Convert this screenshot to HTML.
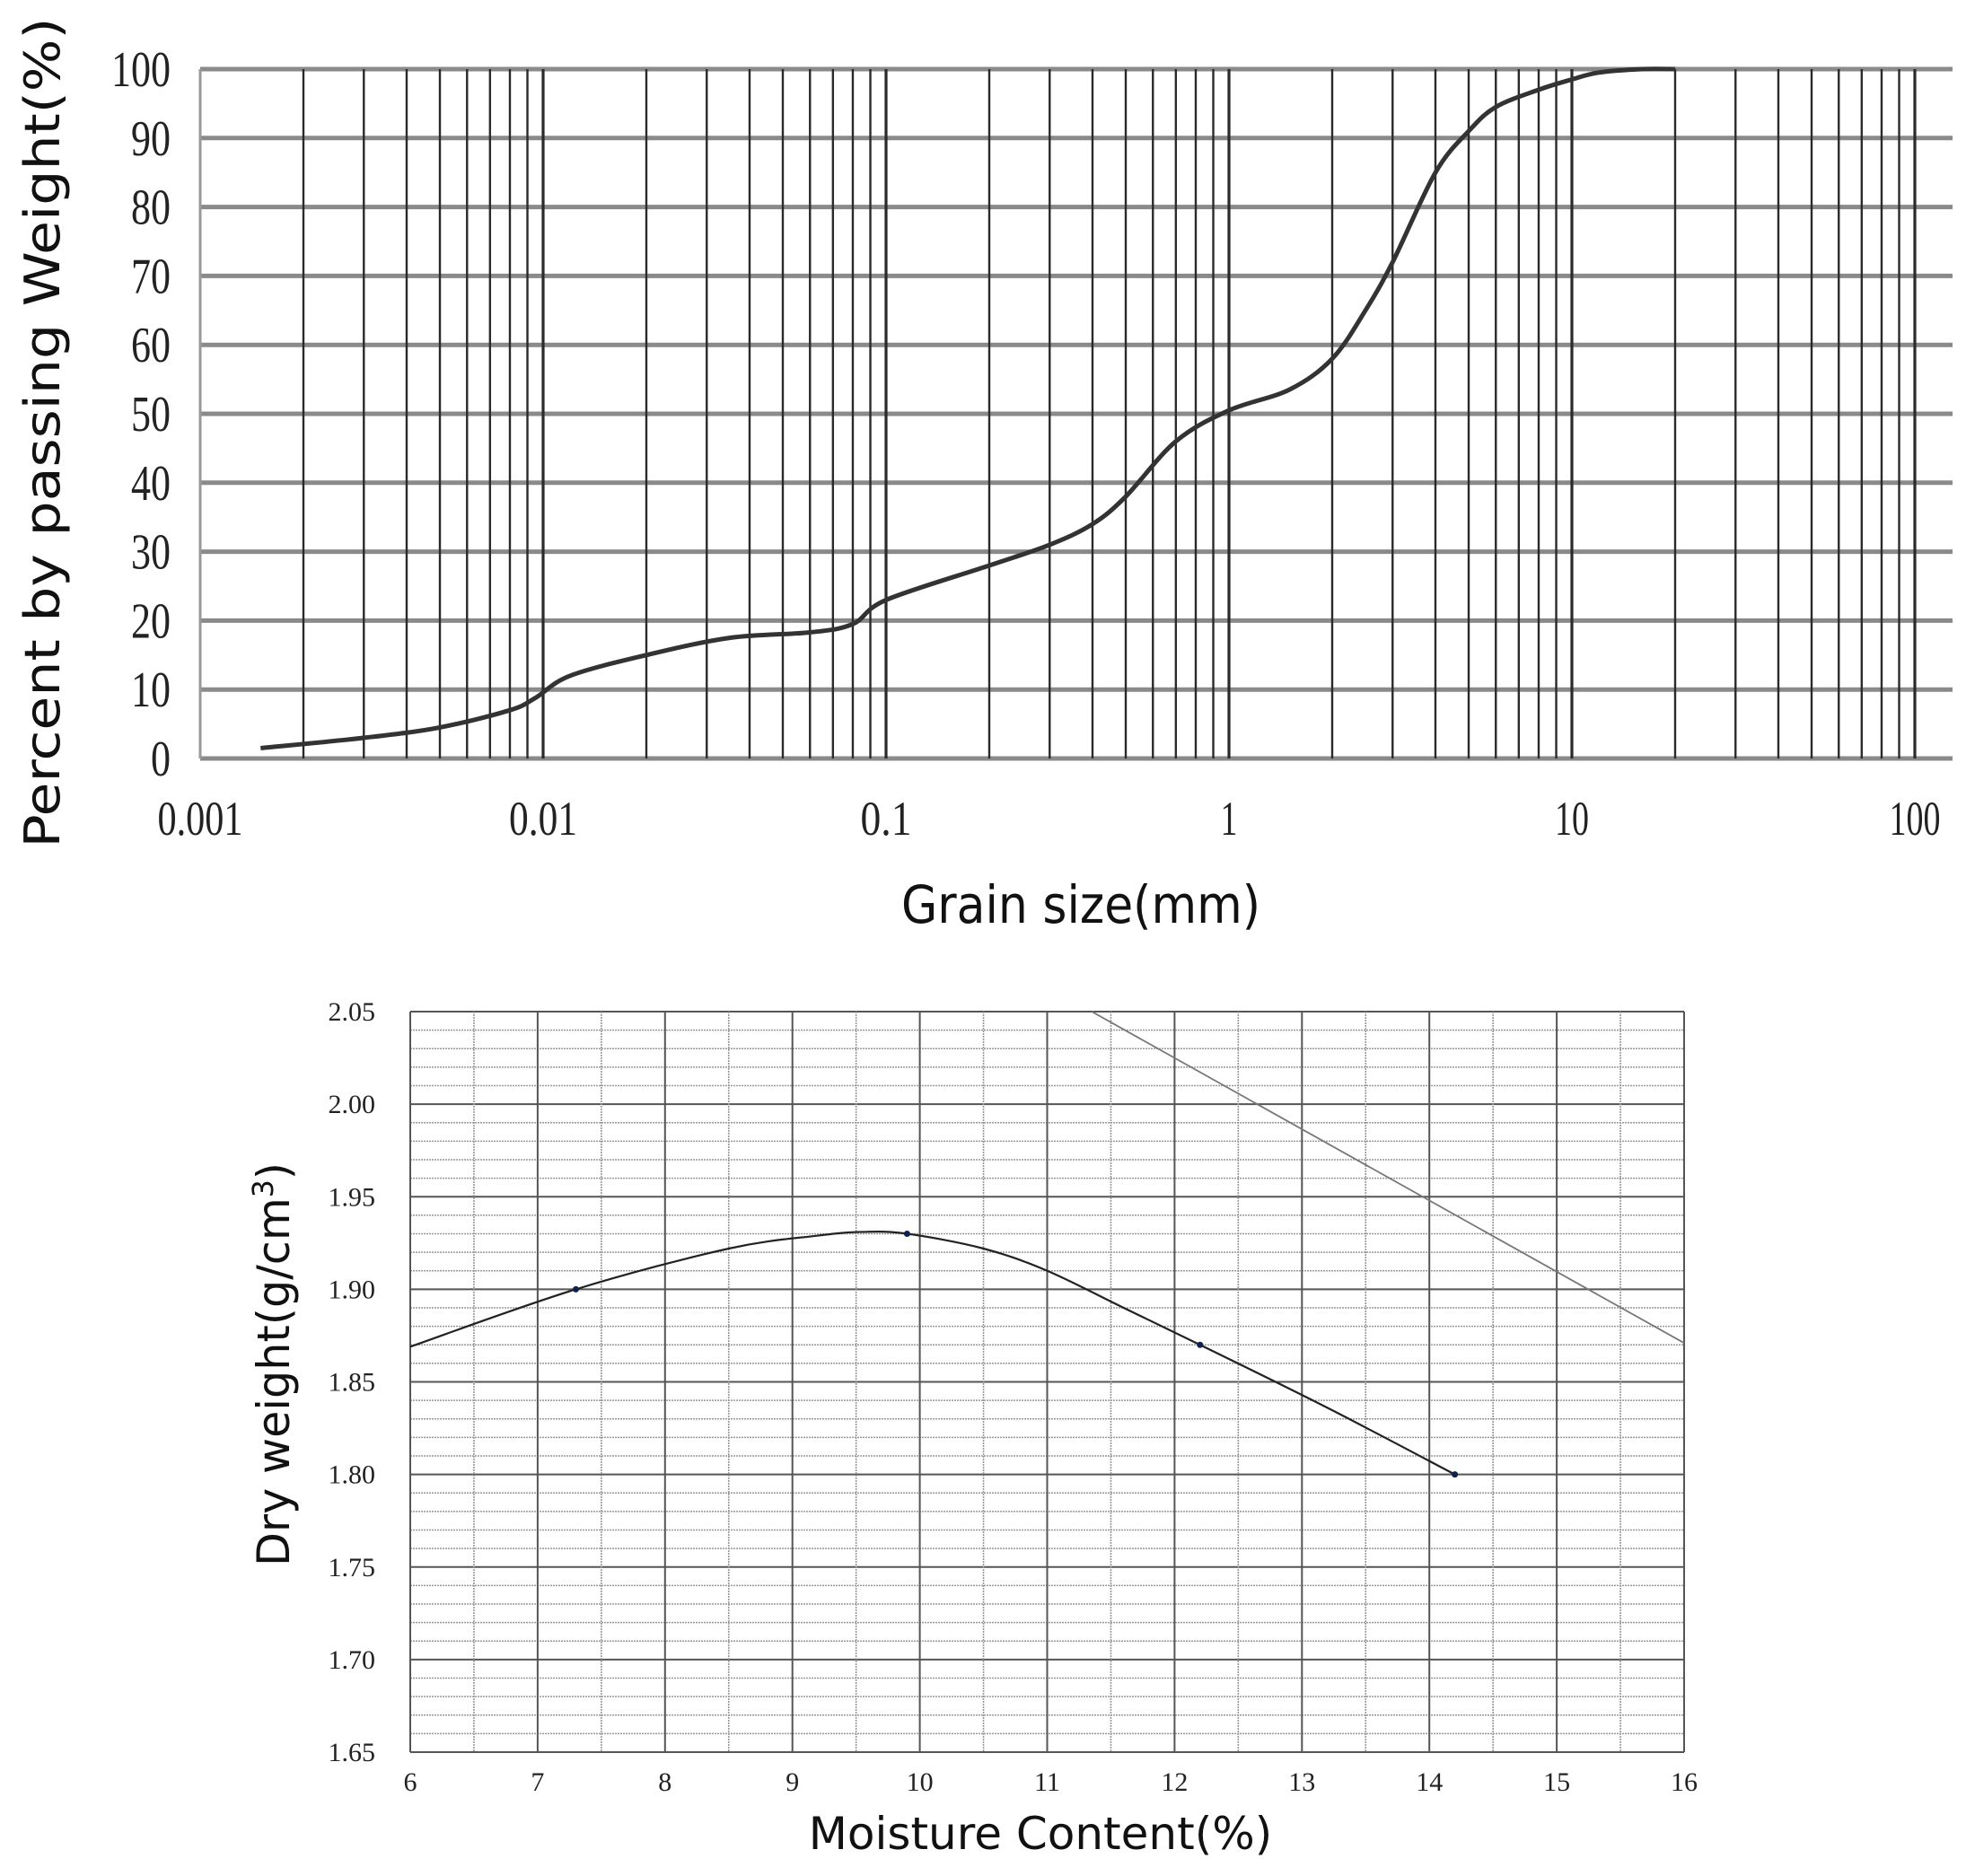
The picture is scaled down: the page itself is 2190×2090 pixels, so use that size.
<!DOCTYPE html>
<html><head><meta charset="utf-8"><style>
html,body{margin:0;padding:0;background:#fff;width:2190px;height:2090px;overflow:hidden}
</style></head><body>
<svg id="s" width="2190" height="2090" xmlns="http://www.w3.org/2000/svg">
<rect width="2190" height="2090" fill="#fff"/>
<g id="g1"></g>
<g id="g2"></g>
<text x="1204" y="1028" font-family="DejaVu Sans, sans-serif" font-size="58" text-anchor="middle" fill="#111" textLength="400" lengthAdjust="spacingAndGlyphs">Grain size(mm)</text>
<text transform="translate(66,482) rotate(-90)" font-family="DejaVu Sans, sans-serif" font-size="54" text-anchor="middle" fill="#111" textLength="925" lengthAdjust="spacingAndGlyphs">Percent by passing Weight(%)</text>
<text x="1159" y="2060" font-family="DejaVu Sans, sans-serif" font-size="50" text-anchor="middle" fill="#111">Moisture Content(%)</text>
<text transform="translate(322,1520) rotate(-90)" font-family="DejaVu Sans, sans-serif" font-size="50" text-anchor="middle" fill="#111" textLength="450" lengthAdjust="spacingAndGlyphs">Dry weight(g/cm<tspan font-size="32" dy="-18">3</tspan><tspan dy="18">)</tspan></text>
</svg>
<script>
var NS="http://www.w3.org/2000/svg";
function el(p,t,a,txt){var e=document.createElementNS(NS,t);for(var k in a)e.setAttribute(k,a[k]);if(txt!==undefined)e.textContent=txt;p.appendChild(e);return e;}
function smooth(P){var d='M'+P[0][0]+','+P[0][1];
for(var i=0;i<P.length-1;i++){var p0=P[Math.max(0,i-1)],p1=P[i],p2=P[i+1],p3=P[Math.min(P.length-1,i+2)];
d+='C'+(p1[0]+(p2[0]-p0[0])/6)+','+(p1[1]+(p2[1]-p0[1])/6)+' '+(p2[0]-(p3[0]-p1[0])/6)+','+(p2[1]-(p3[1]-p1[1])/6)+' '+p2[0]+','+p2[1];}
return d;}
// chart 1
var g1=document.getElementById('g1');
var X0=223,D=382,Y100=77,Y0=845;
function lx(v){return X0+(Math.log10(v)+3)*D;}
function ly(p){return Y0-(Y0-Y100)*p/100;}
for(var i=0;i<=10;i++){var y=ly(i*10);el(g1,'line',{x1:223,x2:2175,y1:y,y2:y,stroke:'#8a8a8a','stroke-width':5});}
el(g1,'line',{x1:223,x2:223,y1:77,y2:845,stroke:'#999','stroke-width':3});
for(var e=-3;e<2;e++){for(var m=2;m<=10;m++){var x=lx(m*Math.pow(10,e));el(g1,'line',{x1:x,x2:x,y1:77,y2:845,stroke:'#2a2a2a','stroke-width':(m==10?3.2:2.4)});}}
var labs=['0.001','0.01','0.1','1','10','100'];
for(var i=0;i<6;i++){var t=el(g1,'text',{x:lx(Math.pow(10,i-3)),y:930,'font-family':'Liberation Serif, serif','font-size':54,'text-anchor':'middle',fill:'#222'},labs[i]);t.setAttribute('textLength',labs[i].length*19);t.setAttribute('lengthAdjust','spacingAndGlyphs');}
for(var i=0;i<=10;i++){var s=String(i*10);el(g1,'text',{x:190,y:ly(i*10)+19,'font-family':'Liberation Serif, serif','font-size':56,'text-anchor':'end',fill:'#222',textLength:s.length*22,lengthAdjust:'spacingAndGlyphs'},s);}
var pts=[[0.0015,1.5],[0.003,3],[0.005,4.5],[0.008,7],[0.0095,8.8],[0.012,12],[0.02,15],[0.035,17.5],[0.06,18.3],[0.08,19.5],[0.1,23],[0.2,28],[0.3,31],[0.4,34],[0.5,38],[0.7,46],[1,50.5],[1.5,53.5],[2,58],[2.5,65],[3,72],[4,85],[5,91],[6,94.5],[8,97],[10,98.5],[12,99.5],[16,100],[20,100]];
el(g1,'path',{d:smooth(pts.map(function(p){return [+lx(p[0]).toFixed(1),+ly(p[1]).toFixed(1)];})),fill:'none',stroke:'#333','stroke-width':5,'stroke-linejoin':'round'});
// chart 2
var g2=document.getElementById('g2');
var L=457,R=1876,T=1127,B=1952;
function mx(v){return L+(v-6)*(R-L)/10;}
function my(v){return B-(v-1.65)*(B-T)/0.4;}
for(var i=0;i<=40;i++){var y=my(1.65+i*0.01);var maj=i%5==0;el(g2,'line',{x1:L,x2:R,y1:y,y2:y,stroke:maj?'#555':'#999','stroke-width':maj?2:1.6,'stroke-dasharray':maj?'':'2,1'});}
for(var i=0;i<=20;i++){var x=mx(6+i*0.5);var maj=i%2==0;el(g2,'line',{x1:x,x2:x,y1:T,y2:B,stroke:maj?'#555':'#999','stroke-width':maj?2:1.6,'stroke-dasharray':maj?'':'2,1'});}
for(var i=0;i<=8;i++){var v=1.65+i*0.05;el(g2,'text',{x:418,y:my(v)+10,'font-family':'Liberation Serif, serif','font-size':30,'text-anchor':'end',fill:'#222'},v.toFixed(2));}
for(var i=6;i<=16;i++){el(g2,'text',{x:mx(i),y:1995,'font-family':'Liberation Serif, serif','font-size':30,'text-anchor':'middle',fill:'#222'},String(i));}
el(g2,'line',{x1:mx(11.35),y1:my(2.05),x2:mx(16),y2:my(1.871),stroke:'#777','stroke-width':1.8});
var c=[[6,1.869],[7.3,1.90],[8.5,1.922],[9.2,1.929],[9.55,1.931],[9.9,1.93],[10.5,1.922],[11,1.91],[11.6,1.89],[12.2,1.87],[13.2,1.836],[14.2,1.80]];
el(g2,'path',{d:smooth(c.map(function(p){return [mx(p[0]),my(p[1])];})),fill:'none',stroke:'#222','stroke-width':2.2});
[[7.3,1.90],[9.9,1.93],[12.2,1.87],[14.2,1.80]].forEach(function(p){el(g2,'circle',{cx:mx(p[0]),cy:my(p[1]),r:3.5,fill:'#102050'});});
</script>
</body></html>
